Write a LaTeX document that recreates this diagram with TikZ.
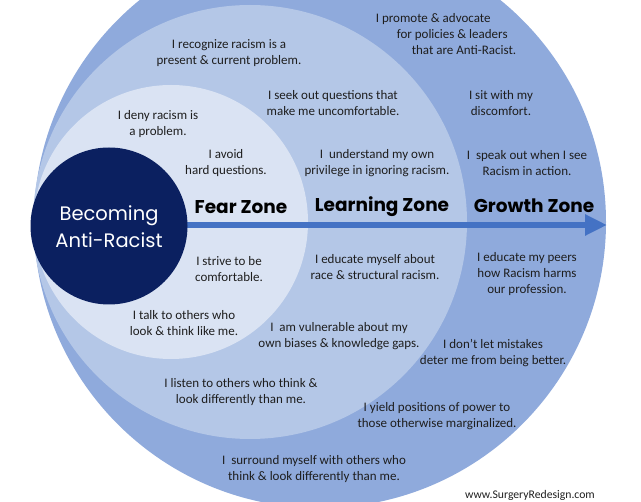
\documentclass[tikz,border=0pt]{standalone}
\usepackage{fontspec}
\setmainfont{Carlito}
\newfontfamily\zonefont{Poppins}
\usetikzlibrary{arrows.meta}
\definecolor{ringA}{HTML}{8FAADC}
\definecolor{ringB}{HTML}{B4C7E7}
\definecolor{ringC}{HTML}{DAE3F3}
\definecolor{navy}{HTML}{0B2060}
\definecolor{arrowblue}{HTML}{4472C4}
\definecolor{ink}{HTML}{1E1E1E}
\tikzset{
  ring/.style={circle, inner sep=0pt, outer sep=0pt, draw=none},
  say/.style={align=center, text=ink, inner sep=0pt, font=\fontsize{13}{16}\selectfont},
  zone/.style={text=black, inner sep=0pt, font=\zonefont\bfseries\fontsize{18.5}{20}\selectfont},
}
\begin{document}
\begin{tikzpicture}[x=1pt,y=-1pt]
\useasboundingbox (0,0) rectangle (641,502);
\begin{scope}
\clip (0,0) rectangle (641,502);
\node[ring, fill=ringA, minimum size=572pt] (outer) at (320,222) {};
\node[ring, fill=ringB, minimum size=434pt] (learn) at (250,222) {};
\node[ring, fill=ringC, minimum size=274pt] (fear) at (171,222) {};
\end{scope}
\coordinate (tip) at (607,225);
\draw[arrowblue, line width=6pt, -{Triangle[length=22pt,width=20pt]}] (187,225) -- (tip);
\node[ring, fill=navy, minimum size=157pt] (core) at (109,226) {};
\node[align=center, text=white, inner sep=0pt, font=\zonefont\fontsize{19.5}{27}\selectfont] (title) at (109,227) {Becoming\\Anti-Racist};
\node[zone] (zfear) at (241,207) {Fear Zone};
\node[zone] (zlearn) at (382,207) {Learning Zone};
\node[zone] (zgrowth) at (534,206) {Growth Zone};

\node[say] (t1) at (229,53) {I recognize racism is a\\present \& current problem.};
\node[say] (t2) at (158,124) {I deny racism is\\a problem.};
\node[say] (t3) at (226,163) {I avoid\\hard questions.};
\node[say] (t4) at (333,103) {I seek out questions that\\make me uncomfortable.};
\node[say] (t5) at (377,163) {I\ \ understand my own\\privilege in ignoring racism.};
\node[say, align=left] (t6) at (446,34) {I promote \& advocate\\\hspace*{21pt}for policies \& leaders\\\hspace*{36pt}that are Anti-Racist.};
\node[say] (t7) at (501,103) {I sit with my\\discomfort.};
\node[say] (t8) at (527,163) {I\ \ speak out when I see\\Racism in action.};
\node[say] (t9) at (229,269) {I strive to be\\comfortable.};
\node[say] (t10) at (184,323) {I talk to others who\\look \& think like me.};
\node[say] (t11) at (375,267) {I educate myself about\\race \& structural racism.};
\node[say] (t12) at (339,336) {I\ \ am vulnerable about my\\own biases \& knowledge gaps.};
\node[say] (t13) at (241,392) {I listen to others who think \&\\look differently than me.};
\node[say] (t14) at (314,469) {I\ \ surround myself with others who\\think \& look differently than me.};
\node[say] (t15) at (527,274) {I educate my peers\\how Racism harms\\our profession.};
\node[say] (t16) at (493,353) {I don’t let mistakes\\deter me from being better.};
\node[say] (t17) at (437,416) {I yield positions of power to\\those otherwise marginalized.};
\node[say, font=\fontsize{11.7}{13}\selectfont] (t18) at (530,495) {www.SurgeryRedesign.com};
\end{tikzpicture}
\end{document}
